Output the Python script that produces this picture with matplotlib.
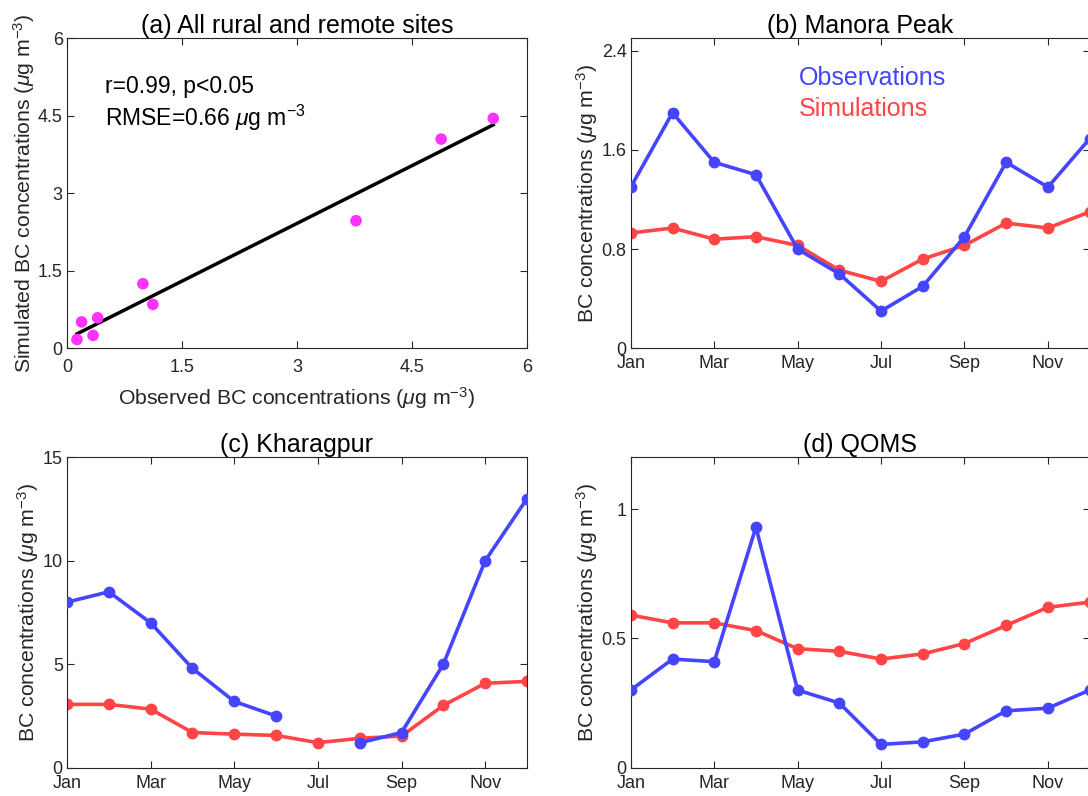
import numpy as np
import matplotlib
matplotlib.use("Agg")
import matplotlib.pyplot as plt

plt.rcParams['font.family'] = ['Liberation Sans', 'DejaVu Sans']
plt.rcParams['mathtext.fontset'] = 'custom'
plt.rcParams['mathtext.rm'] = 'Liberation Sans'
plt.rcParams['mathtext.it'] = 'Liberation Sans:italic'

# (a) scatter of all rural and remote sites
obs_all = [0.13, 0.19, 0.34, 0.40, 0.99, 1.12, 3.77, 4.88, 5.56]
sim_all = [0.17, 0.51, 0.25, 0.59, 1.25, 0.85, 2.47, 4.05, 4.45]

months = ['Jan', 'Feb', 'Mar', 'Apr', 'May', 'Jun', 'Jul', 'Aug', 'Sep', 'Oct', 'Nov', 'Dec']

# (b) Manora Peak
manora_obs = [1.30, 1.90, 1.50, 1.40, 0.80, 0.60, 0.30, 0.50, 0.90, 1.50, 1.30, 1.69]
manora_sim = [0.93, 0.97, 0.88, 0.90, 0.83, 0.63, 0.54, 0.72, 0.83, 1.01, 0.97, 1.10]

# (c) Kharagpur (no July observation)
kgp_obs = [8.0, 8.5, 7.0, 4.8, 3.2, 2.5, np.nan, 1.2, 1.7, 5.0, 10.0, 13.0]
kgp_sim = [3.06, 3.06, 2.83, 1.70, 1.62, 1.56, 1.21, 1.42, 1.53, 3.01, 4.08, 4.17]

# (d) QOMS
qoms_obs = [0.30, 0.42, 0.41, 0.93, 0.30, 0.25, 0.09, 0.10, 0.13, 0.22, 0.23, 0.30]
qoms_sim = [0.59, 0.56, 0.56, 0.53, 0.46, 0.45, 0.42, 0.44, 0.48, 0.55, 0.62, 0.64]

blue = '#4545FF'
red = '#FF4545'
tick_color = '#262626'

fig = plt.figure(figsize=(10.88, 7.96), dpi=100)
W, H = 1088, 796

def make_ax(x0, x1, y0, y1, xpad):
    ax = fig.add_axes([x0 / W, 1 - y1 / H, (x1 - x0) / W, (y1 - y0) / H])
    ax.tick_params(direction='in', top=True, right=True, labelsize=13,
                   colors=tick_color, length=5, width=0.8, pad=3)
    ax.tick_params(axis='x', pad=xpad)
    for s in ax.spines.values():
        s.set_color(tick_color)
        s.set_linewidth(0.8)
    return ax

ylab = r'BC concentrations ($\mu$g m$^{-3}$)'

# (a)
ax = make_ax(67, 527, 38.3, 348.3, 8)
ax.scatter(obs_all, sim_all, s=70, color='#FF33FF', zorder=3, edgecolors='none')
k, b = np.polyfit(obs_all, sim_all, 1)
xf = np.array([min(obs_all), max(obs_all)])
ax.plot(xf, k * xf + b, color='k', lw=2.5, zorder=2)
ax.set_xlim(0, 6)
ax.set_ylim(0, 6)
ax.set_xticks([0, 1.5, 3, 4.5, 6])
ax.set_yticks([0, 1.5, 3, 4.5, 6])
ax.set_xticklabels(['0', '1.5', '3', '4.5', '6'])
ax.set_yticklabels(['0', '1.5', '3', '4.5', '6'])
ax.set_title('(a) All rural and remote sites', fontsize=18, pad=4)
ax.set_xlabel(r'Observed BC concentrations ($\mu$g m$^{-3}$)', fontsize=15.3, color=tick_color, labelpad=6)
ax.set_ylabel(r'Simulated BC concentrations ($\mu$g m$^{-3}$)', fontsize=15.3, color=tick_color, labelpad=1)
ax.text(0.5, 5.06, 'r=0.99, p<0.05', fontsize=16.5, va='center')
ax.text(0.5, 4.46, r'RMSE=0.66 $\mu$g m$^{-3}$', fontsize=16.5, va='center')

def month_panel(x0, x1, y0, y1, obs, sim, ymax, yticks, title):
    ax = make_ax(x0, x1, y0, y1, 5)
    x = np.arange(12)
    ax.plot(x, obs, '-o', color=blue, lw=2.6, ms=7.5, zorder=3)
    ax.plot(x, sim, '-o', color=red, lw=2.6, ms=7.5, zorder=2)
    ax.set_xlim(0, 11)
    ax.set_ylim(0, ymax)
    ax.set_xticks(x[::2])
    ax.set_xticklabels(months[::2])
    ax.set_yticks(yticks)
    ax.set_yticklabels([('%g' % t) for t in yticks])
    ax.set_title(title, fontsize=18, pad=4)
    ax.set_ylabel(ylab, fontsize=15.3, color=tick_color, labelpad=1)
    return ax

axb = month_panel(630.8, 1089.6, 38.3, 348.3, manora_obs, manora_sim, 2.5,
                  [0, 0.8, 1.6, 2.4], '(b) Manora Peak')
axb.text(0.367, 0.872, 'Observations', color=blue, fontsize=18,
         transform=axb.transAxes, va='center')
axb.text(0.367, 0.773, 'Simulations', color=red, fontsize=18,
         transform=axb.transAxes, va='center')

month_panel(67, 527, 457.3, 767.7, kgp_obs, kgp_sim, 15, [0, 5, 10, 15], '(c) Kharagpur')
month_panel(630.8, 1089.6, 457.3, 767.7, qoms_obs, qoms_sim, 1.2, [0, 0.5, 1], '(d) QOMS')

fig.savefig('out.png', dpi=100)
